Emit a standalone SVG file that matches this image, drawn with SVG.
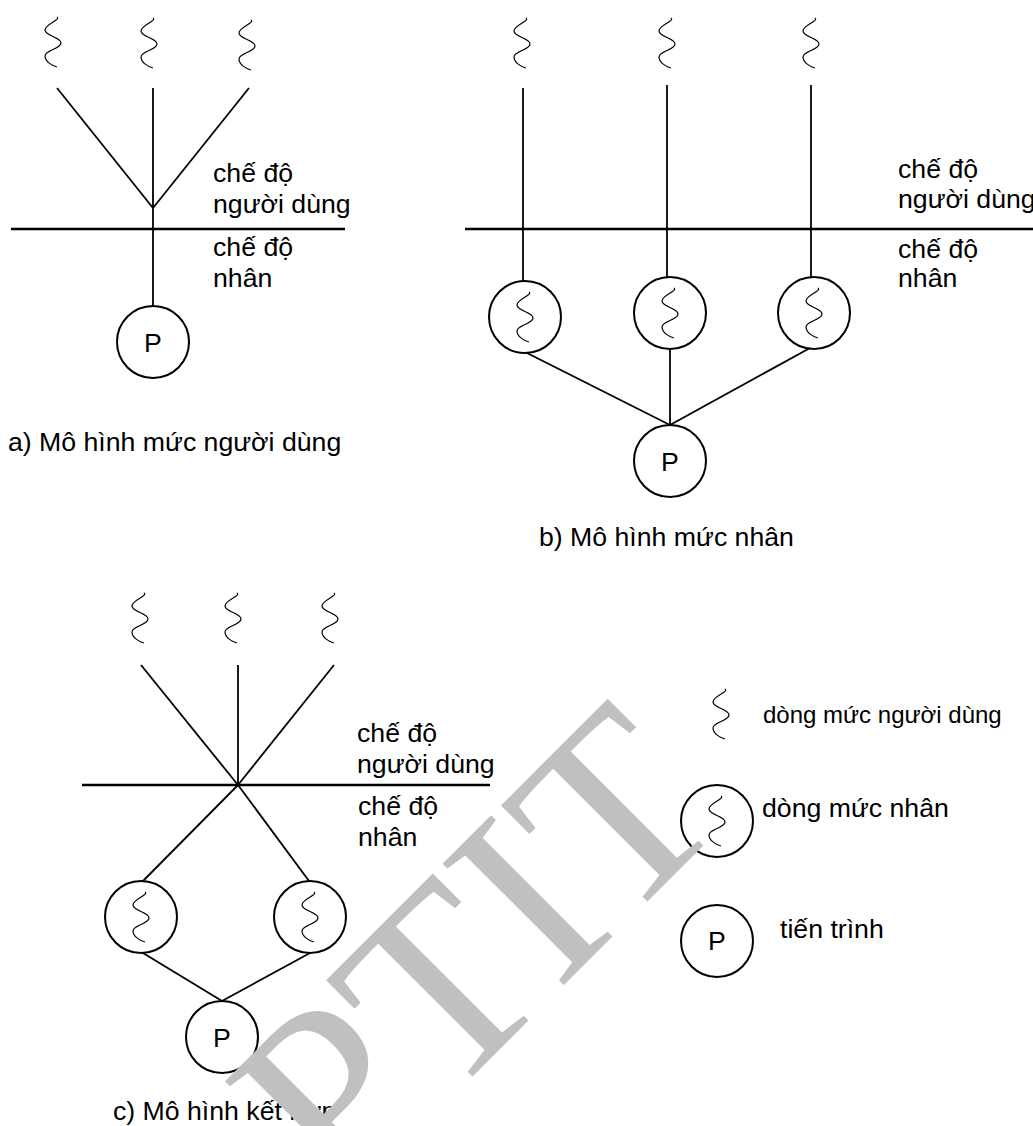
<svg xmlns="http://www.w3.org/2000/svg" width="1033" height="1126" viewBox="0 0 1033 1126">
<style>
.ln{stroke:#000;stroke-width:1.8;fill:none}
.hl{stroke:#000;stroke-width:2.5;fill:none}
.nd{fill:none;stroke:#000;stroke-width:2}
.sq{fill:none;stroke:#000;stroke-width:1.2}
.t{font-family:"Liberation Sans",Arial,sans-serif;font-size:26.67px;fill:#000}
.ts{font-size:24px}
.c{text-anchor:middle}
.wm{font-family:"Liberation Serif","Times New Roman",serif;font-size:262px;fill:#c0c0c0}
</style>
<defs>
<path id="sq" class="sq" d="M4,0 C8,3 -8,7 -8,13 C-8,19 8,20 8,26 C8,32 -8,33 -8,39 C-8,45 0,49 4,50"/>
</defs>
<rect width="1033" height="1126" fill="#fff"/>

<g id="connectors">
  <line class="hl" x1="11" y1="229" x2="345" y2="229"/>
  <line class="ln" x1="57" y1="88" x2="153" y2="208"/>
  <line class="ln" x1="249" y1="88" x2="153" y2="208"/>
  <line class="ln" x1="153" y1="88" x2="153" y2="306"/>
  <line class="hl" x1="465" y1="229" x2="1033" y2="229"/>
  <line class="ln" x1="523" y1="88" x2="523" y2="281"/>
  <line class="ln" x1="667" y1="85" x2="667" y2="277"/>
  <line class="ln" x1="811" y1="85" x2="811" y2="277"/>
  <line class="ln" x1="527" y1="353" x2="670" y2="425"/>
  <line class="ln" x1="670" y1="349" x2="670" y2="425"/>
  <line class="ln" x1="810" y1="348" x2="670" y2="425"/>
  <line class="hl" x1="82" y1="785" x2="490" y2="785"/>
  <line class="ln" x1="141" y1="665" x2="238" y2="785"/>
  <line class="ln" x1="238" y1="665" x2="238" y2="785"/>
  <line class="ln" x1="334" y1="665" x2="238" y2="785"/>
  <line class="ln" x1="238" y1="785" x2="143" y2="881"/>
  <line class="ln" x1="238" y1="785" x2="309" y2="881"/>
  <line class="ln" x1="143" y1="953" x2="222" y2="1001"/>
  <line class="ln" x1="310" y1="953" x2="222" y2="1001"/>
</g>

<g id="a-ut1"><use href="#sq" x="53" y="17"/></g>
<g id="a-ut2"><use href="#sq" x="149" y="18"/></g>
<g id="a-ut3"><use href="#sq" x="247" y="20"/></g>
<g id="a-p"><circle class="nd" cx="153" cy="342" r="36"/><text class="t c" x="153" y="352">P</text></g>
<g id="a-labels">
  <text class="t" x="213" y="182">chế độ</text>
  <text class="t" x="213" y="213">người dùng</text>
  <text class="t" x="213" y="256">chế độ</text>
  <text class="t" x="213" y="287">nhân</text>
  <text class="t" x="8" y="451">a) Mô hình mức người dùng</text>
</g>

<g id="b-ut1"><use href="#sq" x="522" y="18"/></g>
<g id="b-ut2"><use href="#sq" x="667" y="18"/></g>
<g id="b-ut3"><use href="#sq" x="811" y="18"/></g>
<g id="b-kt1"><circle class="nd" cx="525" cy="317" r="36"/><use href="#sq" x="525" y="292"/></g>
<g id="b-kt2"><circle class="nd" cx="670" cy="313" r="36"/><use href="#sq" x="670" y="288"/></g>
<g id="b-kt3"><circle class="nd" cx="814" cy="313" r="36"/><use href="#sq" x="814" y="288"/></g>
<g id="b-p"><circle class="nd" cx="670" cy="461" r="36"/><text class="t c" x="670" y="471">P</text></g>
<g id="b-labels">
  <text class="t" x="898" y="178">chế độ</text>
  <text class="t" x="898" y="208">người dùng</text>
  <text class="t" x="898" y="258">chế độ</text>
  <text class="t" x="898" y="287">nhân</text>
  <text class="t" x="539" y="546">b) Mô hình mức nhân</text>
</g>

<g id="c-ut1"><use href="#sq" x="140" y="593"/></g>
<g id="c-ut2"><use href="#sq" x="233" y="593"/></g>
<g id="c-ut3"><use href="#sq" x="330" y="593"/></g>
<g id="c-kt1"><circle class="nd" cx="141" cy="917" r="36"/><use href="#sq" x="141" y="892"/></g>
<g id="c-kt2"><circle class="nd" cx="310" cy="917" r="36"/><use href="#sq" x="310" y="892"/></g>
<g id="c-p"><circle class="nd" cx="222" cy="1037" r="36"/><text class="t c" x="222" y="1047">P</text></g>
<g id="c-labels">
  <text class="t" x="357" y="742">chế độ</text>
  <text class="t" x="357" y="773">người dùng</text>
  <text class="t" x="358" y="815">chế độ</text>
  <text class="t" x="358" y="846">nhân</text>
  <text class="t" x="113" y="1120">c) Mô hình kết hợp</text>
</g>

<g id="legend-ut"><use href="#sq" x="721" y="689"/><text class="t ts" x="763" y="723">dòng mức người dùng</text></g>
<g id="legend-kt"><circle class="nd" cx="717" cy="821" r="36"/><use href="#sq" x="717" y="796"/><text class="t" x="762" y="817">dòng mức nhân</text></g>
<g id="legend-p"><circle class="nd" cx="717" cy="941" r="36"/><text class="t c" x="717" y="950">P</text><text class="t" x="780" y="938">tiến trình</text></g>

<text class="wm" transform="translate(341,1208) rotate(-45)">PTIT</text>
</svg>
